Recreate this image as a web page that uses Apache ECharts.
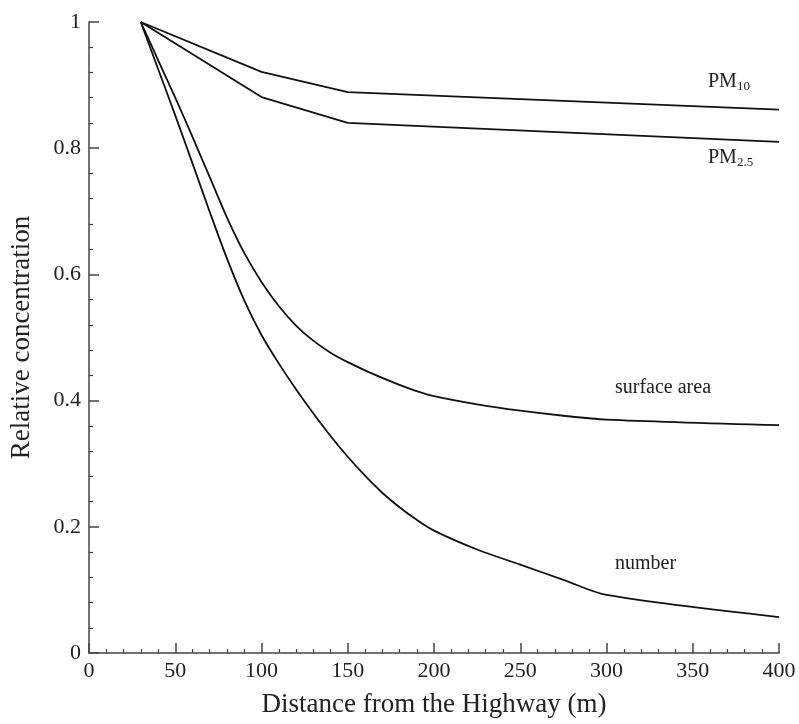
<!DOCTYPE html>
<html>
<head>
<meta charset="utf-8">
<script src="https://cdn.jsdelivr.net/npm/echarts@6/dist/echarts.min.js"></script>
<style>html,body{margin:0;padding:0;background:#fff}#c{width:799px;height:724px}</style>
</head>
<body>
<div id="c"></div>
<script>
const xTicks = [0, 50, 100, 150, 200, 250, 300, 350, 400];
const yTicks = [0, 0.2, 0.4, 0.6, 0.8, 1];

const pm10X = [30, 100, 150, 400];
const pm10Y = [1.0, 0.921, 0.889, 0.861];

const pm25X = [30, 100, 150, 400];
const pm25Y = [1.0, 0.881, 0.840, 0.810];

const surfX = [30, 40, 50, 60, 70, 80, 90, 100, 110, 120, 130, 140, 150, 160, 170, 180, 190, 200, 225, 250, 275, 300, 400];
const surfY = [1.0, 0.94, 0.88, 0.818, 0.754, 0.69, 0.634, 0.588, 0.55, 0.519, 0.495, 0.476, 0.461, 0.448, 0.436, 0.425, 0.415, 0.407, 0.394, 0.384, 0.376, 0.370, 0.361];

const numX = [30, 40, 50, 60, 70, 80, 90, 100, 110, 120, 130, 140, 150, 160, 170, 180, 190, 200, 225, 250, 275, 300, 400];
const numY = [1.0, 0.926, 0.852, 0.776, 0.699, 0.625, 0.559, 0.504, 0.459, 0.418, 0.38, 0.344, 0.311, 0.281, 0.254, 0.231, 0.211, 0.194, 0.164, 0.140, 0.116, 0.092, 0.057];

const FONT = '"Liberation Serif", "Times New Roman", serif';
const TXT = '#222';
const pairs = (xs, ys) => xs.map((x, i) => [x, ys[i]]);

const chart = echarts.init(document.getElementById('c'), null, {renderer: 'canvas'});
const lineStyle = {color: '#111', width: 1.8, join: 'round'};
const mk = (name, xs, ys, smooth) => ({
  name, type: 'line', data: pairs(xs, ys), showSymbol: false, symbol: 'none',
  smooth: smooth, lineStyle, animation: false
});

chart.setOption({
  animation: false,
  backgroundColor: '#fff',
  grid: {left: 88, right: 20, top: 22, bottom: 71, containLabel: false},
  xAxis: {
    type: 'value', min: 0, max: 400, interval: 50,
    name: 'Distance from the Highway (m)', nameLocation: 'middle', nameGap: 38,
    nameTextStyle: {fontFamily: FONT, fontSize: 27, color: TXT},
    axisLine: {show: true, lineStyle: {color: '#444', width: 1.5}},
    axisTick: {show: true, inside: true, length: 10, lineStyle: {color: '#444', width: 1.5}},
    minorTick: {show: true, splitNumber: 5, length: 4, lineStyle: {color: '#444', width: 1.2}},
    axisLabel: {fontFamily: FONT, fontSize: 22, color: TXT, margin: 7,
      formatter: v => xTicks.includes(v) ? String(v) : ''},
    splitLine: {show: false}
  },
  yAxis: {
    type: 'value', min: 0, max: 1, interval: 0.2,
    name: 'Relative concentration', nameLocation: 'middle', nameGap: 54,
    nameTextStyle: {fontFamily: FONT, fontSize: 27, color: TXT},
    axisLine: {show: true, lineStyle: {color: '#444', width: 1.5}},
    axisTick: {show: true, inside: true, length: 10, lineStyle: {color: '#444', width: 1.5}},
    minorTick: {show: true, splitNumber: 5, length: 4, lineStyle: {color: '#444', width: 1.2}},
    axisLabel: {fontFamily: FONT, fontSize: 22, color: TXT, margin: 8,
      formatter: v => {
        const t = yTicks.find(y => Math.abs(y - v) < 1e-9);
        return t === undefined ? '' : String(+t.toFixed(1));
      }},
    splitLine: {show: false}
  },
  series: [
    mk('PM10', pm10X, pm10Y, false),
    mk('PM2.5', pm25X, pm25Y, false),
    mk('surface area', surfX, surfY, 0.3),
    mk('number', numX, numY, 0.3)
  ]
});

const rich = {
  m: {fontFamily: FONT, fontSize: 20, fill: TXT, color: TXT},
  s: {fontFamily: FONT, fontSize: 13, fill: TXT, color: TXT, padding: [10, 0, 0, 0]}
};
const txt = (left, top, text, r) => ({
  type: 'text', left, top,
  style: {text, fontFamily: FONT, fontSize: 20, fill: TXT, rich: r ? rich : undefined}
});
chart.setOption({
  graphic: [
    txt(708, 72, '{m|PM}{s|10}', true),
    txt(708, 148, '{m|PM}{s|2.5}', true),
    txt(615, 378, 'surface area', false),
    txt(615, 554, 'number', false)
  ]
});
</script>
</body>
</html>
